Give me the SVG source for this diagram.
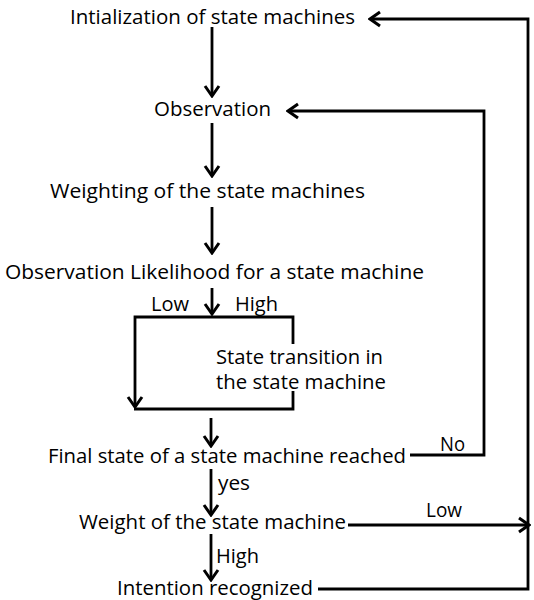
<svg xmlns="http://www.w3.org/2000/svg" width="534" height="600" viewBox="0 0 534 600">
<style>
text{font-family:"Open Sans","Liberation Sans",sans-serif;font-size:20px;fill:#000}
.ln{fill:none;stroke:#000;stroke-width:2.8;stroke-linejoin:miter}
.ar{marker-end:url(#ah)}
</style>
<defs>
<marker id="ah" markerUnits="userSpaceOnUse" viewBox="-12 -9 14 18" refX="0" refY="0" markerWidth="14" markerHeight="18" orient="auto">
<path d="M-10,-7 L0,0 L-10,7" fill="none" stroke="#000" stroke-width="3"/>
</marker>
</defs>
<rect width="534" height="600" fill="#fff"/>
<g id="n1"><text x="70" y="24" textLength="285" lengthAdjust="spacingAndGlyphs">Intialization of state machines</text></g>
<g id="n2"><text x="154" y="116" textLength="117" lengthAdjust="spacingAndGlyphs">Observation</text></g>
<g id="n3"><text x="50" y="198" textLength="315" lengthAdjust="spacingAndGlyphs">Weighting of the state machines</text></g>
<g id="n4"><text x="5" y="279" textLength="419" lengthAdjust="spacingAndGlyphs">Observation Likelihood for a state machine</text></g>
<g id="n5"><text x="216" y="364" textLength="167" lengthAdjust="spacingAndGlyphs">State transition in</text><text x="216" y="389" textLength="170" lengthAdjust="spacingAndGlyphs">the state machine</text></g>
<g id="n6"><text x="48" y="463" textLength="358" lengthAdjust="spacingAndGlyphs">Final state of a state machine reached</text></g>
<g id="n7"><text x="79" y="529" textLength="267" lengthAdjust="spacingAndGlyphs">Weight of the state machine</text></g>
<g id="n8"><text x="117" y="595" textLength="196" lengthAdjust="spacingAndGlyphs">Intention recognized</text></g>
<g id="labels">
<text x="151" y="311" textLength="38" lengthAdjust="spacingAndGlyphs">Low</text>
<text x="235" y="311" textLength="43" lengthAdjust="spacingAndGlyphs">High</text>
<text x="440" y="451" textLength="25" lengthAdjust="spacingAndGlyphs">No</text>
<text x="218" y="490" textLength="32" lengthAdjust="spacingAndGlyphs">yes</text>
<text x="426" y="517" textLength="36" lengthAdjust="spacingAndGlyphs">Low</text>
<text x="216" y="563" textLength="43" lengthAdjust="spacingAndGlyphs">High</text>
</g>
<g id="connectors">
<path class="ln ar" d="M212,27 V96"/>
<path class="ln ar" d="M212,123 V176"/>
<path class="ln ar" d="M212,207 V253"/>
<path class="ln ar" d="M212,288 V314"/>
<path class="ln ar" d="M293,344 V317 H135 V407"/>
<path class="ln" d="M293,391 V409 H134"/>
<path class="ln ar" d="M211,418 V446"/>
<path class="ln ar" d="M410,455 H484 V111 H288"/>
<path class="ln ar" d="M318,589 H528 V19 H370"/>
<path class="ln ar" d="M211,469 V515"/>
<path class="ln ar" d="M348,525 H529"/>
<path class="ln ar" d="M211,534 V580"/>
</g>
</svg>
